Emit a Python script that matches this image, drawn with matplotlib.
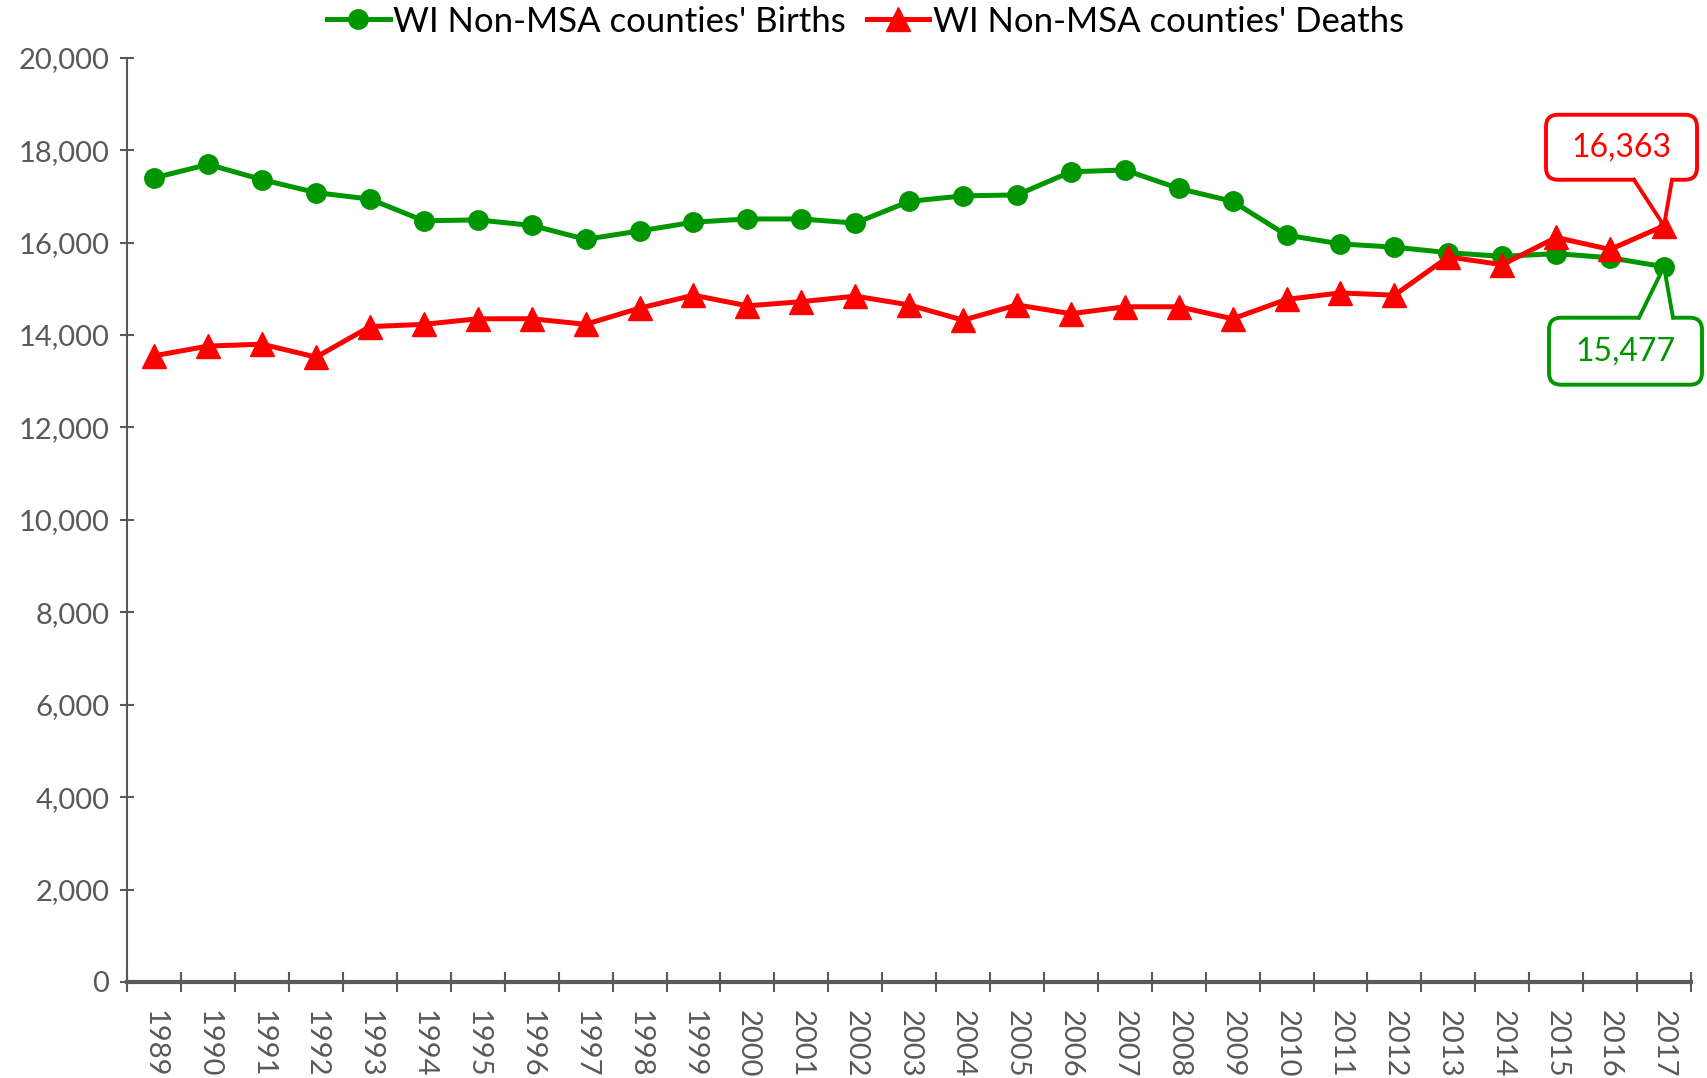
import numpy as np
import matplotlib
matplotlib.use("Agg")
import matplotlib.pyplot as plt
from matplotlib.ticker import FuncFormatter, FixedLocator
from matplotlib.patches import FancyBboxPatch, Polygon
from matplotlib.lines import Line2D
from matplotlib.transforms import IdentityTransform

plt.rcParams['font.family'] = ['Lato', 'DejaVu Sans']

years = [str(y) for y in range(1989, 2018)]
births = [17400, 17690, 17360, 17080, 16940, 16470, 16490, 16370, 16070, 16250,
          16440, 16510, 16510, 16420, 16890, 17010, 17030, 17530, 17570, 17170,
          16890, 16160, 15970, 15900, 15780, 15700, 15760, 15670, 15477]
deaths = [13550, 13760, 13800, 13520, 14180, 14230, 14350, 14350, 14230, 14580,
          14860, 14630, 14720, 14840, 14650, 14320, 14650, 14460, 14610, 14610,
          14350, 14770, 14910, 14860, 15690, 15520, 16110, 15850, 16363]
labels = ["WI Non-MSA counties' Births", "WI Non-MSA counties' Deaths"]

green = '#009600'
red = '#ff0000'
gray = '#595959'

fig = plt.figure(figsize=(17.07, 10.78), dpi=100)
ax = fig.add_axes([0.0746, 0.0891, 0.916, 0.8574])

x = np.arange(len(years))
ax.plot(x, births, color=green, lw=3.6, marker='o', ms=14, label=labels[0], zorder=3)
ax.plot(x, deaths, color=red, lw=3.6, marker='^', ms=17, label=labels[1], zorder=3)

ax.set_xlim(-0.5, len(years) - 0.5)
ax.set_ylim(0, 20000)
ax.set_yticks(np.arange(0, 20001, 2000))
ax.yaxis.set_major_formatter(FuncFormatter(lambda v, p: f"{int(v):,}"))

ax.set_xticks(x)
ax.set_xticklabels(years, rotation=270)
ax.xaxis.set_minor_locator(FixedLocator(np.arange(-0.5, len(years), 1)))
ax.tick_params(axis='x', which='major', length=0, pad=20, labelsize=21, colors=gray)
ax.tick_params(axis='x', which='minor', direction='inout', length=15, width=1.5, color=gray)
ax.tick_params(axis='y', direction='inout', length=10, width=1.5, pad=8, labelsize=21, colors=gray)

for s in ['top', 'right']:
    ax.spines[s].set_visible(False)
for s in ['left', 'bottom']:
    ax.spines[s].set_color(gray)
    ax.spines[s].set_linewidth(1.5)
ax.spines['bottom'].set_linewidth(3)

ax.legend(loc='center', bbox_to_anchor=(0.472, 1.039), ncol=2, frameon=False,
          fontsize=25, handlelength=1.8, handletextpad=0.1, columnspacing=0.6,
          borderaxespad=0)


def callout(xv, yv, box, base, color):
    # box = (left, right, top, bottom) and base = (x0, x1) in pixels from the point, y downwards
    tx, ty = ax.transData.transform((xv, yv))
    l, r, t, b = box
    ident = IdentityTransform()
    rect = FancyBboxPatch((tx + l, ty - b), r - l, b - t,
                          boxstyle='round,pad=0,rounding_size=12',
                          fc='white', ec=color, lw=2.8, transform=ident, zorder=6)
    fig.add_artist(rect)
    edge = b if t < 0 else t
    inner = edge - 4 if t < 0 else edge + 4
    fill = Polygon([(tx + base[0], ty - inner), (tx + base[1], ty - inner), (tx, ty)],
                   closed=True, fc='white', ec='none', transform=ident, zorder=7)
    fig.add_artist(fill)
    fig.add_artist(Line2D([tx + base[0], tx, tx + base[1]], [ty - edge, ty, ty - edge],
                          color=color, lw=2.8, transform=ident, zorder=8))
    fig.text((tx + (l + r) / 2) / fig.bbox.width, (ty - (t + b) / 2) / fig.bbox.height,
             f"{int(yv):,}", ha='center', va='center', fontsize=23, color=color, zorder=9)


callout(x[-1], deaths[-1], (-118, 33, -111, -46), (-30, 8), red)
callout(x[-1], births[-1], (-115, 38, 51, 118), (-25, 9), green)

fig.savefig('out.png', dpi=100)
